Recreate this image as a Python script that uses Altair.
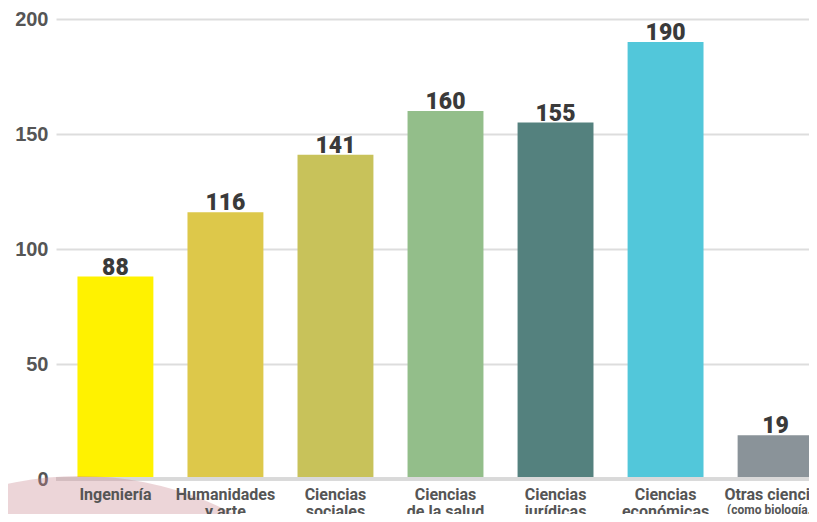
import altair as alt
import pandas as pd

categories = ["Ingeniería", "Humanidades y arte", "Ciencias sociales", "Ciencias de la salud",
              "Ciencias jurídicas", "Ciencias económicas", "Otras ciencias"]
values = [88, 116, 141, 160, 155, 190, 19]
line1 = ["Ingeniería", "Humanidades", "Ciencias", "Ciencias", "Ciencias", "Ciencias", "Otras ciencias"]
line2 = ["", "y arte", "sociales", "de la salud", "jurídicas", "económicas", ""]
line2_small = ["", "", "", "", "", "", "(como biología, ..."]
colors = ["#fff200", "#ddc84a", "#c8c25a", "#93be8a", "#54817e", "#52c7da", "#8a9399"]
y_ticks = [0, 50, 100, 150, 200]

df = pd.DataFrame({"cat": categories, "value": values, "l1": line1, "l2": line2,
                   "l2s": line2_small, "color": colors})

W, H = 753, 460
RANGE_W = 779
FONT_L = "Roboto, Liberation Sans, sans-serif"
FONT_V = "Roboto, Liberation Sans, sans-serif"

x = alt.X("cat:N", sort=categories, axis=None,
          scale=alt.Scale(paddingInner=0.31, paddingOuter=0.195, range=[0, RANGE_W]))
y_scale = alt.Scale(domain=[0, 200], nice=False)

bars = alt.Chart(df).mark_bar().encode(
    x=x,
    y=alt.Y("value:Q", scale=y_scale,
            axis=alt.Axis(values=y_ticks, title=None, domain=False, ticks=False,
                          labelFontSize=20, labelFont="Liberation Sans", labelFontWeight="bold",
                          labelColor="#555555", labelPadding=8, gridColor="#dddddd",
                          gridWidth=2)),
    color=alt.Color("color:N", scale=None),
)

base_rule = alt.Chart(df).mark_rule(color="#d9d9d9", strokeWidth=3).encode(
    y=alt.datum(0), x=alt.value(0), x2=alt.value(W)
)

circle = alt.Chart(pd.DataFrame({"a": [0]})).mark_point(
    shape="circle", filled=True, color="#c9868f", opacity=0.35, size=660 * 660
).encode(x=alt.value(24), y=alt.value(787))

value_labels = alt.Chart(df).mark_text(
    font=FONT_V, fontWeight=900, fontSize=23, color="#3a3a3a",
    baseline="alphabetic", dy=-2
).encode(x=x, y=alt.Y("value:Q", scale=y_scale), text="value:Q")

lab1 = alt.Chart(df).mark_text(
    font=FONT_L, fontWeight="bold", fontSize=16, color="#555555", baseline="alphabetic"
).encode(x=x, y=alt.value(H + 21), text="l1:N")

lab2 = alt.Chart(df).mark_text(
    font=FONT_L, fontWeight="bold", fontSize=16, color="#555555", baseline="alphabetic"
).encode(x=x, y=alt.value(H + 38), text="l2:N")

lab2s = alt.Chart(df).mark_text(
    font=FONT_L, fontWeight="bold", fontSize=12, color="#555555", baseline="alphabetic"
).encode(x=x, y=alt.value(H + 35), text="l2s:N")

chart = alt.layer(bars, base_rule, circle, value_labels, lab1, lab2, lab2s).properties(
    width=W, height=H,
    autosize=alt.AutoSizeParams(type="none"),
    padding={"left": 48, "top": 11, "right": 0, "bottom": 35},
    background="white",
).configure_view(stroke=None)

chart.save("out.html", embed_options={"renderer": "svg", "actions": False})
